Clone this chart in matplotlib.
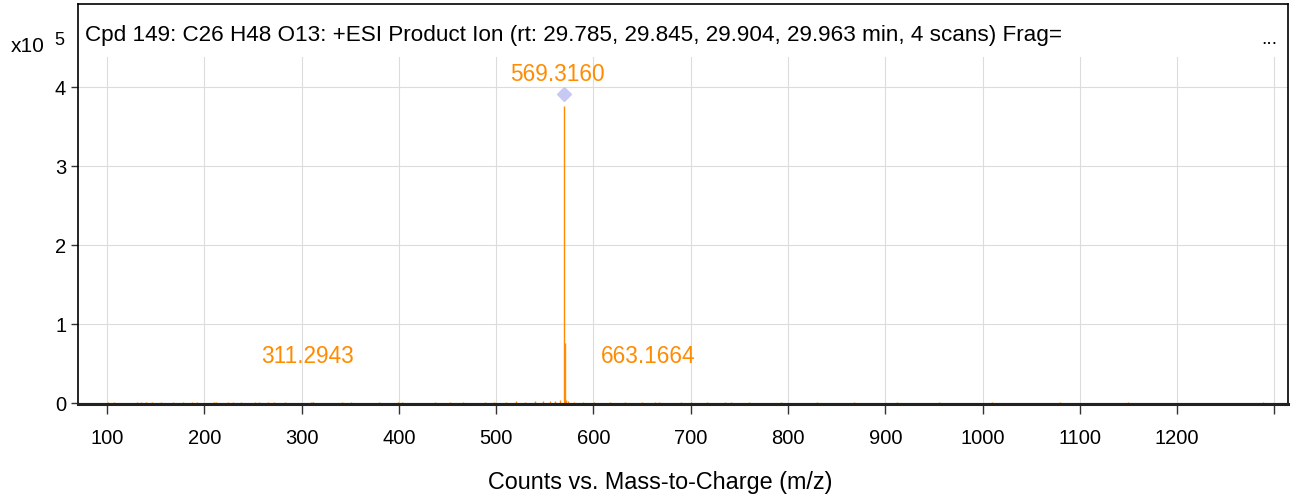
import matplotlib.pyplot as plt

plt.rcParams['font.family'] = ['Liberation Sans', 'DejaVu Sans']

# main peaks (m/z, counts x10^5)
peak_mz = [569.3160, 570.32, 571.32, 311.2943, 663.1664]
peak_int = [3.76, 0.75, 0.03, 0.012, 0.010]

# baseline noise
noise_mz = [101, 107, 131, 135, 140, 146, 155, 168, 178, 187, 192, 210, 212, 224,
            229, 238, 252, 256, 265, 272, 283, 310, 312, 341, 351, 380, 399, 403,
            437, 452, 466, 488, 498, 510, 520, 530, 540, 548, 555, 560, 566, 574,
            580, 589, 601, 617, 632, 650, 667, 690, 700, 717, 735, 741, 760, 793,
            830, 868, 912, 955, 1010, 1080, 1150, 1288]
noise_int = [0.008, 0.01, 0.006, 0.008, 0.01, 0.007, 0.009, 0.006, 0.008, 0.01,
             0.007, 0.012, 0.008, 0.006, 0.009, 0.008, 0.007, 0.01, 0.006, 0.008,
             0.007, 0.012, 0.01, 0.006, 0.008, 0.007, 0.01, 0.009, 0.008, 0.006,
             0.01, 0.009, 0.012, 0.011, 0.014, 0.012, 0.016, 0.02, 0.018, 0.025,
             0.03, 0.02, 0.012, 0.01, 0.008, 0.01, 0.007, 0.008, 0.006, 0.009,
             0.01, 0.006, 0.008, 0.007, 0.006, 0.007, 0.006, 0.005, 0.006, 0.005,
             0.005, 0.006, 0.005, 0.008]

labels = ['569.3160', '311.2943', '663.1664']
label_x = [563, 306, 656]
label_y = [4.02, 0.45, 0.45]

orange = '#FF8C00'

fig = plt.figure(figsize=(12.93, 5.02), dpi=100)
ax = fig.add_axes([0.0603, 0.193, 0.9358, 0.797])

ax.set_xlim(70, 1314)
ax.set_ylim(-0.02, 5.05)

# grid (drawn by hand so it stops under the title band)
for gx in range(100, 1301, 100):
    ax.plot([gx, gx], [-0.02, 4.38], color='#dcdcdc', lw=0.8, zorder=0)
for gy in [1, 2, 3, 4]:
    ax.axhline(gy, color='#dcdcdc', lw=0.8, zorder=0)

ax.vlines(noise_mz, 0, noise_int, color=orange, lw=1)
ax.vlines(peak_mz, 0, peak_int, color=orange, lw=1)
ax.axhline(0, color='#555555', lw=0.8)

ax.plot([569.3160], [3.91], marker='D', color='#c8c8f5', markersize=7, ls='none')

for t, x, y in zip(labels, label_x, label_y):
    ax.text(x, y, t, color=orange, fontsize=16.3, ha='center', va='bottom')

ax.text(0.006, 0.925, 'Cpd 149: C26 H48 O13: +ESI Product Ion (rt: 29.785, 29.845, 29.904, 29.963 min, 4 scans) Frag=',
        transform=ax.transAxes, fontsize=16.2, va='center', ha='left')
ax.text(0.985, 0.915, '...', transform=ax.transAxes, fontsize=14, va='center', ha='center')
fig.text(0.008, 0.908, 'x10', fontsize=15, va='center', ha='left')
fig.text(0.042, 0.92, '5', fontsize=13, va='center', ha='left')

ax.set_xticks(range(100, 1301, 100))
ax.set_xticklabels([str(v) for v in range(100, 1201, 100)] + [''])
ax.set_yticks([0, 1, 2, 3, 4])
ax.tick_params(axis='both', labelsize=14.5, direction='out', length=5, width=1, color='#333333')
ax.tick_params(axis='x', length=7, pad=10)

for s in ['top', 'right', 'left']:
    ax.spines[s].set_linewidth(1.2)
ax.spines['bottom'].set_linewidth(2.2)
ax.spines['bottom'].set_color('#222222')

fig.text(0.511, 0.038, 'Counts vs. Mass-to-Charge (m/z)', fontsize=16.8, ha='center', va='center')

fig.savefig('out.png', dpi=100)
